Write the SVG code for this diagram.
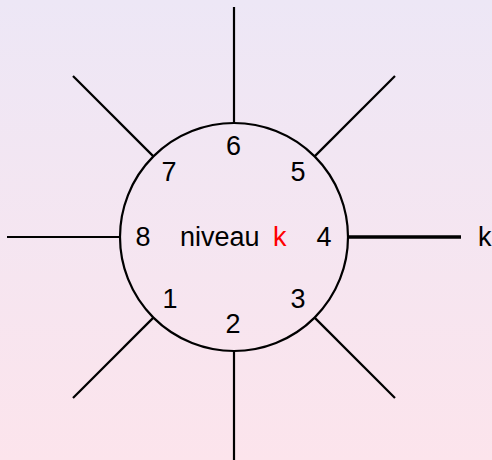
<svg xmlns="http://www.w3.org/2000/svg" width="492" height="460" viewBox="0 0 492 460">
  <defs>
    <linearGradient id="bg" x1="0" y1="0" x2="0" y2="1">
      <stop offset="0" stop-color="#ede7f6"/>
      <stop offset="1" stop-color="#fce4ec"/>
    </linearGradient>
    <style>
      .ln { stroke: #000; stroke-width: 2.2; fill: none; stroke-linecap: butt; }
      .thick { stroke-width: 3.3; }
      .t { font-family: "Liberation Sans", Arial, sans-serif; font-size: 27px; fill: #000; }
      .num { text-anchor: middle; }
      .red { fill: #ff0000; }
    </style>
  </defs>
  <rect width="492" height="460" fill="url(#bg)"/>
  <g id="connectors">
    <line class="ln" x1="234" y1="7" x2="234" y2="123"/>
    <line class="ln" x1="234" y1="351" x2="234" y2="460"/>
    <line class="ln" x1="7" y1="237" x2="120" y2="237"/>
    <line class="ln thick" x1="348" y1="237" x2="461" y2="237"/>
    <line class="ln" x1="73" y1="76" x2="153.4" y2="156.4"/>
    <line class="ln" x1="395" y1="76" x2="314.6" y2="156.4"/>
    <line class="ln" x1="73" y1="398" x2="153.4" y2="317.6"/>
    <line class="ln" x1="395" y1="398" x2="314.6" y2="317.6"/>
  </g>
  <g id="niveau">
    <circle class="ln" cx="234" cy="237" r="114"/>
    <text class="t" x="180" y="246">niveau</text>
    <text class="t red" x="273" y="246">k</text>
    <text class="t num" x="233.5" y="155">6</text>
    <text class="t num" x="169" y="181">7</text>
    <text class="t num" x="298" y="181">5</text>
    <text class="t num" x="143" y="246">8</text>
    <text class="t num" x="324" y="246">4</text>
    <text class="t num" x="170" y="308">1</text>
    <text class="t num" x="298" y="308">3</text>
    <text class="t num" x="233" y="333">2</text>
  </g>
  <g id="k-label">
    <text class="t" x="478" y="246">k</text>
  </g>
</svg>
